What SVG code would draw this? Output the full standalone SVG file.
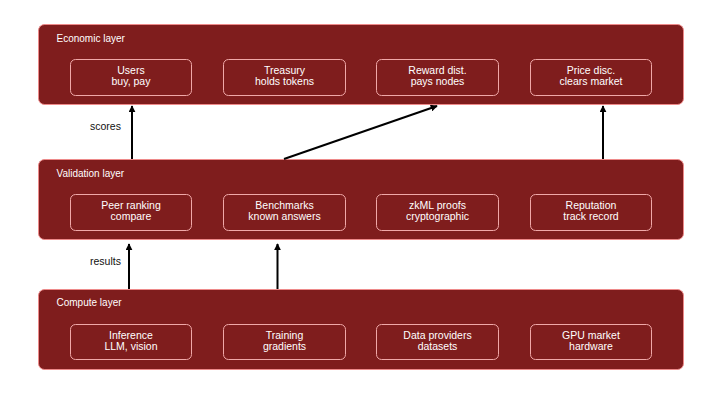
<svg xmlns="http://www.w3.org/2000/svg" width="720" height="405" viewBox="0 0 720 405">
<defs>
<marker id="ah" viewBox="0 0 10 10" refX="9" refY="5" markerWidth="3.5" markerHeight="3.5" orient="auto" markerUnits="strokeWidth">
<path d="M0,0 L10,5 L0,10 z" fill="#000"/>
</marker>
<style>
.layer{fill:#7f1d1d;stroke:#ee8a8a;stroke-width:1}
.box{fill:none;stroke:#f0a8a8;stroke-width:1}
.lt{font-family:"Liberation Sans",Arial,sans-serif;font-size:10px;fill:#ffffff}
.bt{font-family:"Liberation Sans",Arial,sans-serif;font-size:10.5px;fill:#ffffff;text-anchor:middle}
.el{font-family:"Liberation Sans",Arial,sans-serif;font-size:10.5px;fill:#111111}
.conn{stroke:#000;stroke-width:2;fill:none;marker-end:url(#ah)}
</style>
</defs>
<rect width="720" height="405" fill="#ffffff"/>
<g id="economic-layer">
<rect class="layer" x="38.5" y="24.5" width="645" height="80" rx="6"/>
<text class="lt" x="56.5" y="41.5">Economic layer</text>
</g>
<g id="users"><rect class="box" x="70.5" y="59.5" width="121" height="36" rx="5"/><text class="bt" x="131" y="74">Users</text><text class="bt" x="131" y="85">buy, pay</text></g>
<g id="treasury"><rect class="box" x="223.5" y="59.5" width="122" height="36" rx="5"/><text class="bt" x="284.5" y="74">Treasury</text><text class="bt" x="284.5" y="85">holds tokens</text></g>
<g id="reward"><rect class="box" x="376.5" y="59.5" width="122" height="36" rx="5"/><text class="bt" x="437.5" y="74">Reward dist.</text><text class="bt" x="437.5" y="85">pays nodes</text></g>
<g id="price"><rect class="box" x="530.5" y="59.5" width="121" height="36" rx="5"/><text class="bt" x="591" y="74">Price disc.</text><text class="bt" x="591" y="85">clears market</text></g>

<g id="validation-layer">
<rect class="layer" x="38.5" y="159.5" width="645" height="80" rx="6"/>
<text class="lt" x="56.5" y="176.5">Validation layer</text>
</g>
<g id="peer"><rect class="box" x="70.5" y="194.5" width="121" height="36" rx="5"/><text class="bt" x="131" y="209">Peer ranking</text><text class="bt" x="131" y="220">compare</text></g>
<g id="bench"><rect class="box" x="223.5" y="194.5" width="122" height="36" rx="5"/><text class="bt" x="284.5" y="209">Benchmarks</text><text class="bt" x="284.5" y="220">known answers</text></g>
<g id="zkml"><rect class="box" x="376.5" y="194.5" width="122" height="36" rx="5"/><text class="bt" x="437.5" y="209">zkML proofs</text><text class="bt" x="437.5" y="220">cryptographic</text></g>
<g id="reputation"><rect class="box" x="530.5" y="194.5" width="121" height="36" rx="5"/><text class="bt" x="591" y="209">Reputation</text><text class="bt" x="591" y="220">track record</text></g>

<g id="compute-layer">
<rect class="layer" x="38.5" y="289.5" width="645" height="80" rx="6"/>
<text class="lt" x="56.5" y="306">Compute layer</text>
</g>
<g id="inference"><rect class="box" x="70.5" y="324.5" width="121" height="35" rx="5"/><text class="bt" x="131" y="339">Inference</text><text class="bt" x="131" y="350">LLM, vision</text></g>
<g id="training"><rect class="box" x="223.5" y="324.5" width="122" height="35" rx="5"/><text class="bt" x="284.5" y="339">Training</text><text class="bt" x="284.5" y="350">gradients</text></g>
<g id="data"><rect class="box" x="376.5" y="324.5" width="122" height="35" rx="5"/><text class="bt" x="437.5" y="339">Data providers</text><text class="bt" x="437.5" y="350">datasets</text></g>
<g id="gpu"><rect class="box" x="530.5" y="324.5" width="121" height="35" rx="5"/><text class="bt" x="591" y="339">GPU market</text><text class="bt" x="591" y="350">hardware</text></g>

<g id="connectors">
<line class="conn" x1="132" y1="159" x2="132" y2="106"/>
<line class="conn" x1="284" y1="159" x2="437" y2="106"/>
<line class="conn" x1="603" y1="159" x2="603" y2="106"/>
<line class="conn" x1="129" y1="289" x2="129" y2="244"/>
<line class="conn" x1="277.5" y1="289" x2="277.5" y2="244"/>
<text class="el" x="90" y="129.5">scores</text>
<text class="el" x="90" y="264.5">results</text>
</g>
</svg>
